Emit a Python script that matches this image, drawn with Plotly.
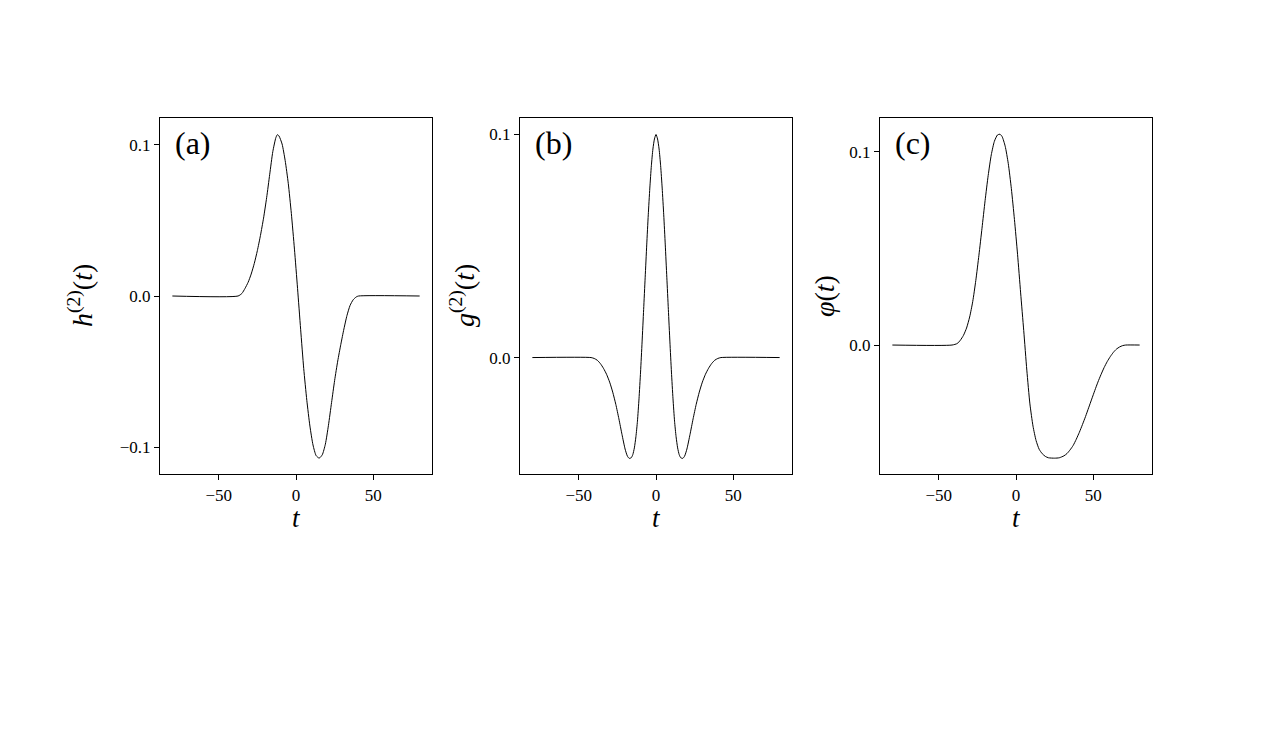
import plotly.graph_objects as go

# ---- data ----
t_a = [-80, -37.5, -35, -33, -31, -29, -27, -25, -23, -21, -19, -17, -15, -13, -12, -11, -9, -7, -5, -3, -1,
       1, 3, 5, 7, 9, 11, 13, 15, 17, 19, 21, 23, 25, 27, 29, 31, 33, 35, 37, 39, 40.5, 80]
h_a = [0, 0, 0.0017, 0.005, 0.009, 0.0145, 0.0215, 0.030, 0.040, 0.0515, 0.065, 0.0805, 0.0955, 0.1048, 0.1067,
       0.1058, 0.1005, 0.0895, 0.0745, 0.0545, 0.031, 0.005, -0.022, -0.048, -0.069, -0.086, -0.0985, -0.1055,
       -0.1072, -0.105, -0.098, -0.0855, -0.0705, -0.0558, -0.043, -0.032, -0.0218, -0.0128, -0.0062, -0.0025,
       -0.0006, 0, 0]

t_b = [-80, -42, -40, -38, -36, -34, -32, -30, -28, -26, -24, -22, -20, -18.5, -17.3, -16, -15, -14, -13, -12,
       -11, -10, -9, -8, -7, -6, -5, -4, -3, -2, -1, 0, 1, 2, 3, 4, 5, 6, 7, 8, 9, 10, 11, 12, 13, 14, 15, 16,
       17.3, 18.5, 20, 22, 24, 26, 28, 30, 32, 34, 36, 38, 40, 42, 80]
g_b = [0, 0, -0.0004, -0.0012, -0.0027, -0.0048, -0.0075, -0.011, -0.0155, -0.021, -0.0275, -0.0345, -0.041,
       -0.0442, -0.0452, -0.0449, -0.0435, -0.0405, -0.0355, -0.0285, -0.0185, -0.0065, 0.007, 0.0215, 0.036,
       0.0505, 0.064, 0.076, 0.086, 0.0935, 0.098, 0.100, 0.098, 0.0935, 0.086, 0.076, 0.064, 0.0505, 0.036,
       0.0215, 0.007, -0.0065, -0.0185, -0.0285, -0.0355, -0.0405, -0.0435, -0.0449, -0.0452, -0.0442, -0.041,
       -0.0345, -0.0275, -0.021, -0.0155, -0.011, -0.0075, -0.0048, -0.0027, -0.0012, -0.0004, 0, 0]

t_c = [-80, -41.4, -38, -36, -34, -32, -30, -28, -26, -24, -22, -20, -18, -16, -14, -12, -10.4, -9, -7, -5, -3,
       -1, 1, 3, 5, 7, 9, 11, 13, 15, 17, 19, 21, 25, 28, 31, 33, 35, 37, 39, 41, 43, 45, 47, 49, 51, 53, 55,
       57, 59, 61, 63, 65, 67, 69, 71, 80]
p_c = [0, 0, 0.0008, 0.0025, 0.005, 0.0088, 0.0145, 0.0225, 0.0335, 0.0465, 0.0605, 0.0748, 0.0878, 0.0985,
       0.1055, 0.1088, 0.1092, 0.108, 0.103, 0.094, 0.081, 0.065, 0.047, 0.027, 0.0075, -0.013, -0.0305, -0.042,
       -0.0495, -0.054, -0.0563, -0.0577, -0.0584, -0.0586, -0.0584, -0.0574, -0.0562, -0.0543, -0.052, -0.0488,
       -0.0452, -0.0412, -0.037, -0.0325, -0.028, -0.0235, -0.0192, -0.0153, -0.0117, -0.0086, -0.006,
       -0.0038, -0.0021, -0.001, -0.0003, 0, 0]

x_ticks = [-50, 0, 50]
x_tick_text = ["−50", "0", "50"]
y_ticks_a = [-0.1, 0.0, 0.1]
y_ticks_b = [0.0, 0.1]
y_ticks_c = [0.0, 0.1]
panel_labels = ["(a)", "(b)", "(c)"]
y_titles = ["<i>h</i><sup>(2)</sup>(<i>t</i>)", "<i>g</i><sup>(2)</sup>(<i>t</i>)", "<i>φ</i>(<i>t</i>)"]

W, H = 1281, 741
FONT = "Liberation Serif"

# panel pixel boxes (left, right), shared top/bottom
boxes = [(160, 432), (520, 792), (880, 1152)]
top_px, bot_px = 118, 474
y_ranges = [[-0.1177, 0.1177], [-0.0522, 0.1074], [-0.0668, 0.1176]]
y_ticks = [y_ticks_a, y_ticks_b, y_ticks_c]
series = [(t_a, h_a), (t_b, g_b), (t_c, p_c)]
ytitle_x = [80, 462, 824]

fig = go.Figure()
for i, ((l, r), (tx, ty)) in enumerate(zip(boxes, series)):
    k = "" if i == 0 else str(i + 1)
    fig.add_trace(go.Scatter(x=tx, y=ty, mode="lines",
                             line=dict(color="black", width=1, shape="spline", smoothing=0.6),
                             xaxis="x" + k, yaxis="y" + k, showlegend=False, hoverinfo="skip"))
    axstyle = dict(showgrid=False, zeroline=False, showline=True, linecolor="black", linewidth=1.2,
                   mirror=True, ticks="outside", ticklen=5, tickwidth=1, tickcolor="black",
                   tickfont=dict(family=FONT, size=17, color="black"))
    fig.update_layout(**{
        "xaxis" + k: dict(domain=[l / W, r / W], range=[-88, 88], anchor="y" + k,
                          tickvals=x_ticks, ticktext=x_tick_text, **axstyle),
        "yaxis" + k: dict(domain=[1 - bot_px / H, 1 - top_px / H], range=y_ranges[i], anchor="x" + k,
                          tickvals=y_ticks[i], tickformat=".1f", **axstyle),
    })
    # panel label
    fig.add_annotation(x=(l + 13) / W, y=1 - 143 / H, xref="paper", yref="paper", text=panel_labels[i],
                       showarrow=False, xanchor="left", yanchor="middle",
                       font=dict(family=FONT, size=32, color="black"))
    # x title
    x0_px = l + (0 + 88) / 176 * (r - l)
    fig.add_annotation(x=x0_px / W, y=1 - 518 / H, xref="paper", yref="paper", text="<i>t</i>",
                       showarrow=False, xanchor="center", yanchor="middle",
                       font=dict(family=FONT, size=27, color="black"))
    # y title
    fig.add_annotation(x=ytitle_x[i] / W, y=1 - 296 / H, xref="paper", yref="paper", text=y_titles[i],
                       showarrow=False, textangle=-90, xanchor="center", yanchor="middle",
                       font=dict(family=FONT, size=28, color="black"))

fig.update_layout(width=W, height=H, margin=dict(l=0, r=0, t=0, b=0),
                  paper_bgcolor="white", plot_bgcolor="white")
fig.write_html("out.html")
